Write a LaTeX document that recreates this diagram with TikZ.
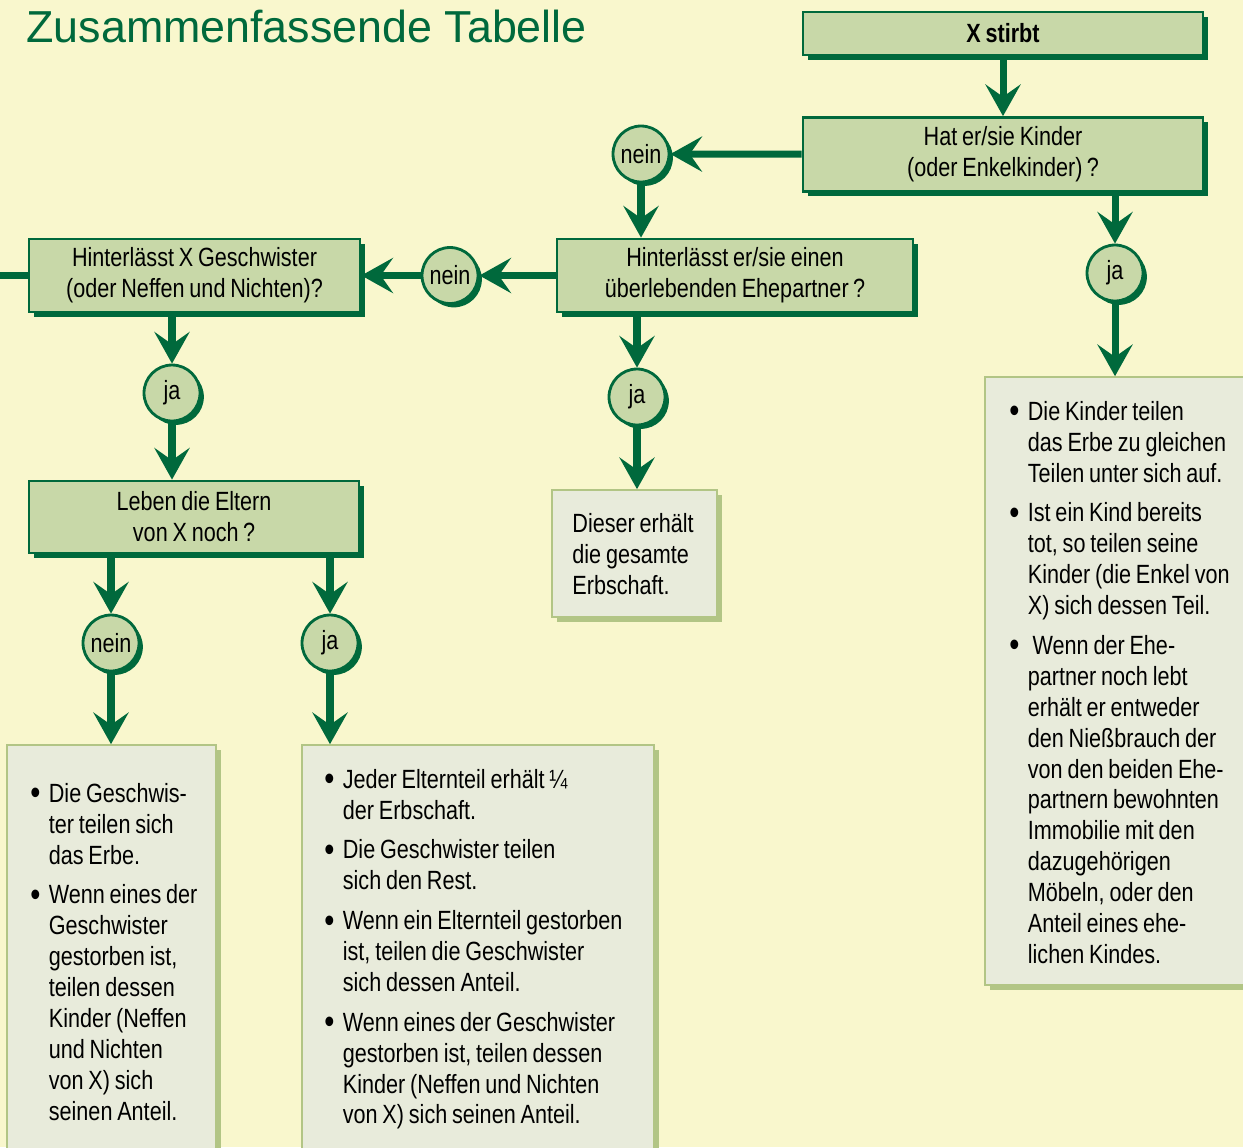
\documentclass[tikz,border=0pt]{standalone}
\usepackage{fontspec}
\setmainfont{Liberation Sans}[FakeStretch=0.82, WordSpace=0.8]
\newfontfamily\titelfont{Liberation Sans}
\usetikzlibrary{arrows.meta}
\usetikzlibrary{shadows}
\usetikzlibrary{calc}

\definecolor{hintergrund}{HTML}{F9F7CD}
\definecolor{dunkelgruen}{HTML}{00693C}
\definecolor{kastengruen}{HTML}{C8D8A8}
\definecolor{hellfeld}{HTML}{E8EBDB}
\definecolor{hellrand}{HTML}{B2C585}

\newlength\einzug
\setlength\einzug{10.5pt}
\providecommand\pkt{\par\let\\\newline\hangindent=\einzug\hangafter=1\noindent
    \makebox[\einzug][l]{\raisebox{-1.4pt}{\fontsize{20}{17.6}\selectfont\textbullet}}}
\providecommand\luecke{\par\vspace{5pt}}

\begin{document}
\begin{tikzpicture}[%
        x = 0.02cm,
        y = -0.02cm,
        line width = 1.6pt,
        frage/.style = {rectangle, draw = dunkelgruen, fill = kastengruen, align = center,
            inner sep = 0pt, font = \fontsize{15}{17.6}\selectfont,
            drop shadow = {shadow xshift = 2.8pt, shadow yshift = -2.8pt, fill = dunkelgruen, opacity = 1}},
        antwort/.style = {circle, draw = dunkelgruen, fill = kastengruen, minimum size = 1.12cm,
            inner sep = 0pt, font = \fontsize{15}{17.6}\selectfont,
            drop shadow = {shadow xshift = 2.2pt, shadow yshift = -2.2pt, fill = dunkelgruen, opacity = 1}},
        ergebnis/.style = {rectangle, draw = hellrand, line width = 1pt, fill = hellfeld, inner sep = 0pt,
            drop shadow = {shadow xshift = 2.8pt, shadow yshift = -2.8pt, fill = hellrand, opacity = 1}},
        liste/.style = {anchor = north west, align = flush left, inner sep = 0pt,
            font = \fontsize{15}{17.6}\selectfont},
        pfeil/.style = {draw = dunkelgruen, line width = 4pt,
            -{Stealth[length = 18pt, width = 20pt, inset = 7pt]}},
        ]

\useasboundingbox (0,0) rectangle (1243,1147);
\clip (0,0) rectangle (1243,1147);
\fill[hintergrund] (0,0) rectangle (1243,1147);

\node (titel) [anchor = base west, inner sep = 0pt, text = dunkelgruen,
    font = \titelfont\fontsize{25.5}{30}\selectfont] at (25,42) {Zusammenfassende Tabelle};

% Fragen
\node (tod) [frage, minimum width = 8cm, minimum height = 0.86cm,
    font = \fontsize{15}{17.6}\selectfont\bfseries] at (1003,33.5) {X stirbt};
\node (hat) [frage, minimum width = 8cm, minimum height = 1.48cm] at (1003,154.5)
    {Hat er/sie Kinder\\(oder Enkelkinder)\,?};
\node (ehe) [frage, minimum width = 7.12cm, minimum height = 1.46cm] at (735,275.5)
    {Hinterlässt er/sie einen\\überlebenden Ehepartner\,?};
\node (gesch) [frage, minimum width = 6.62cm, minimum height = 1.46cm] at (194.5,275.5)
    {Hinterlässt X Geschwister\\(oder Neffen und Nichten)?};
\node (eltern) [frage, minimum width = 6.6cm, minimum height = 1.44cm] at (194,517)
    {Leben die Eltern\\von X noch\,?};

% Antworten
\node (nein1) [antwort] at (641,154) {nein};
\node (ja1) [antwort] at (1115,273) {ja};
\node (nein2) [antwort] at (450,275.5) {nein};
\node (ja2) [antwort] at (637,397) {ja};
\node (ja3) [antwort] at (172,393) {ja};
\node (nein3) [antwort] at (111,643) {nein};
\node (ja4) [antwort] at (330,643) {ja};

% Ergebnisse
\node (dieser) [ergebnis, minimum width = 3.3cm, minimum height = 2.54cm] at (634.5,553.5) {};
\node (kinder) [ergebnis, minimum width = 5.7cm, minimum height = 12.16cm] at (1127.5,681) {};
\node (geschwerbe) [ergebnis, minimum width = 4.18cm, minimum height = 8.5cm] at (111.5,957.5) {};
\node (elternerbe) [ergebnis, minimum width = 7.04cm, minimum height = 8.5cm] at (478,957.5) {};

\node (diesertext) [liste, text width = 3cm] at (571,512)
    {Dieser erhält\\die gesamte\\Erbschaft.};

\node (kindertext) [liste, text width = 6cm] at (1008,388) {%
    \pkt Die Kinder teilen\\das Erbe zu gleichen\\Teilen unter sich auf.\luecke
    \pkt Ist ein Kind bereits\\tot, so teilen seine\\Kinder (die Enkel von\\X) sich dessen Teil.\luecke
    \pkt\ Wenn der Ehe-\\partner noch lebt\\erhält er entweder\\den Nießbrauch der\\von den beiden Ehe-\\%
    partnern bewohnten\\Immobilie mit den\\dazugehörigen\\Möbeln, oder den\\Anteil eines ehe-\\lichen Kindes.\par};

\node (geschwtext) [liste, text width = 4cm] at (29,770) {%
    \pkt Die Geschwis-\\ter teilen sich\\das Erbe.\luecke
    \pkt Wenn eines der\\Geschwister\\gestorben ist,\\teilen dessen\\Kinder (Neffen\\und Nichten\\%
    von X) sich\\seinen Anteil.\par};

\node (elterntext) [liste, text width = 7cm] at (323,756) {%
    \pkt Jeder Elternteil erhält ¼\\der Erbschaft.\luecke
    \pkt Die Geschwister teilen\\sich den Rest.\luecke
    \pkt Wenn ein Elternteil gestorben\\ist, teilen die Geschwister\\sich dessen Anteil.\luecke
    \pkt Wenn eines der Geschwister\\gestorben ist, teilen dessen\\Kinder (Neffen und Nichten\\%
    von X) sich seinen Anteil.\par};

% Pfeile
\draw[pfeil] (tod) -- (hat);
\draw[pfeil] (hat) -- (nein1);
\draw[pfeil] (nein1) -- (ehe.north -| nein1);
\draw[pfeil] (hat.south -| ja1) -- (ja1);
\draw[pfeil] (ja1) -- (kinder.north -| ja1);
\draw[pfeil] (ehe) -- (nein2);
\draw[pfeil] (nein2) -- (gesch);
\draw[pfeil] (ehe.south -| ja2) -- (ja2);
\draw[pfeil] (ja2) -- (dieser.north -| ja2);
\draw[pfeil] (gesch.south -| ja3) -- (ja3);
\draw[pfeil] (ja3) -- (eltern.north -| ja3);
\draw[pfeil] (eltern.south -| nein3) -- (nein3);
\draw[pfeil] (nein3) -- (geschwerbe.north -| nein3);
\draw[pfeil] (eltern.south -| ja4) -- (ja4);
\draw[pfeil] (ja4) -- (elternerbe.north -| ja4);

\coordinate (rand) at (-10,275.5);
\draw[dunkelgruen, line width = 4pt] (gesch.west) -- (rand);

\end{tikzpicture}
\end{document}
